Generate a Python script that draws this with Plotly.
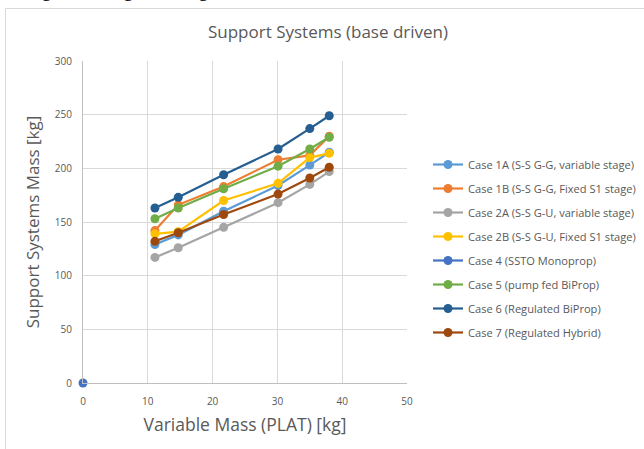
import plotly.graph_objects as go

x_vals = [11.1, 14.7, 21.7, 30.1, 35.0, 38.0]

series_names = [
    "Case 1A (S-S G-G, variable stage)",
    "Case 1B (S-S G-G, Fixed S1 stage)",
    "Case 2A (S-S G-U, variable stage)",
    "Case 2B (S-S G-U, Fixed S1 stage)",
    "Case 4 (SSTO Monoprop)",
    "Case 5 (pump fed BiProp)",
    "Case 6 (Regulated BiProp)",
    "Case 7 (Regulated Hybrid)",
]

case_1a = [129, 138, 160, 184, 203, 215]
case_1b = [142, 166, 183, 208, 212, 230]
case_2a = [117, 126, 145, 168, 185, 197]
case_2b = [139, 141, 170, 186, 210, 214]
case_4_x = [0]
case_4 = [0]
case_5 = [153, 163, 181, 202, 218, 229]
case_6 = [163, 173, 194, 218, 237, 249]
case_7 = [132, 140, 157, 176, 191, 201]

colors = ["#5B9BD5", "#ED7D31", "#A5A5A5", "#FFC000", "#4472C4", "#70AD47", "#255E91", "#9E480E"]

series_x = [x_vals, x_vals, x_vals, x_vals, case_4_x, x_vals, x_vals, x_vals]
series_y = [case_1a, case_1b, case_2a, case_2b, case_4, case_5, case_6, case_7]

x_ticks = [0, 10, 20, 30, 40, 50]
y_ticks = [0, 50, 100, 150, 200, 250, 300]

fig = go.Figure()
for i, (name, xs, ys, c) in enumerate(zip(series_names, series_x, series_y, colors)):
    fig.add_trace(go.Scatter(
        x=xs, y=ys, name=name, mode="lines+markers",
        line=dict(color=c, width=2.2),
        marker=dict(color=c, size=9),
        cliponaxis=False, legendgroup=f"g{i}",
    ))

W, H = 644, 449
L, R, T, B = 83, 237, 61, 66
pw, ph = W - L - R, H - T - B

def px_x(p):
    return (p - L) / pw

def px_y(p):
    return (H - B - p) / ph

fig.update_layout(
    width=W, height=H,
    margin=dict(l=L, r=R, t=T, b=B),
    paper_bgcolor="white", plot_bgcolor="white",
    font=dict(family="Open Sans, Lato, sans-serif", color="#595959"),
    title=dict(text="Support Systems (base driven)", x=328 / W, xanchor="center",
               y=1 - 32 / H, yanchor="middle", font=dict(size=17, color="#595959")),
    xaxis=dict(range=[0, 50], tickvals=x_ticks, showgrid=True, gridcolor="#D9D9D9", gridwidth=1,
               zeroline=False, showline=True, linecolor="#BFBFBF", linewidth=1,
               ticks="", tickfont=dict(size=10, color="#595959"), ticklabelstandoff=9,
               title=dict(text="Variable Mass (PLAT) [kg]", font=dict(size=17.5, color="#595959"), standoff=11)),
    yaxis=dict(range=[0, 300], tickvals=y_ticks, showgrid=True, gridcolor="#D9D9D9", gridwidth=1,
               zeroline=False, showline=True, linecolor="#BFBFBF", linewidth=1,
               ticks="", tickfont=dict(size=10, color="#595959"), ticklabelstandoff=8,
               title=dict(text="Support Systems Mass [kg]", font=dict(size=17, color="#595959"), standoff=10)),
    legend=dict(xref="container", yref="container", x=428 / W, y=1 - 150 / H,
                xanchor="left", yanchor="top",
                font=dict(size=11.1, color="#595959"), tracegroupgap=5,
                itemwidth=30, bgcolor="rgba(0,0,0,0)"),
    showlegend=True,
)

fig.add_shape(type="rect", xref="paper", yref="paper",
              x0=px_x(5.5), x1=px_x(660), y0=px_y(470), y1=px_y(8.5),
              line=dict(color="#D9D9D9", width=1), fillcolor="rgba(0,0,0,0)", layer="below")

fig.add_annotation(text="the lightest weight sliding erector are as follows:",
                   xref="paper", yref="paper", x=px_x(-1), y=px_y(3), xanchor="left", yanchor="bottom",
                   showarrow=False, font=dict(family="Liberation Serif, serif", size=20, color="black"))

fig.write_html("out.html")
